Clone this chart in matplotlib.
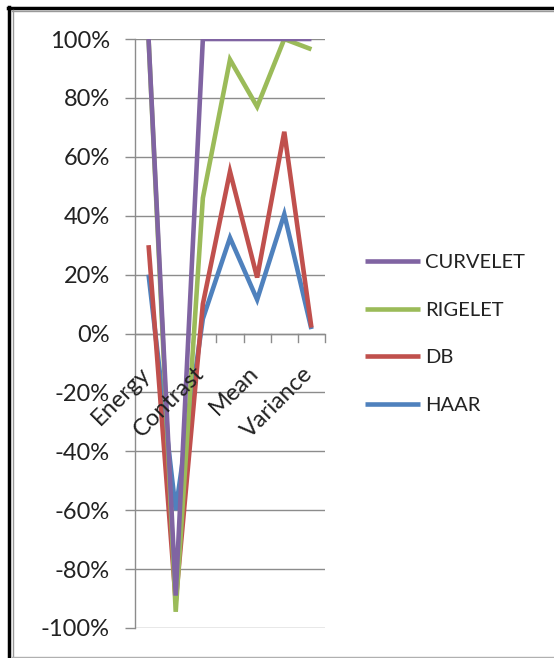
import matplotlib
matplotlib.use("Agg")
import matplotlib.pyplot as plt
from matplotlib.lines import Line2D
from matplotlib.ticker import FixedLocator, PercentFormatter

# feature order along the x axis; only every second name is labelled
features = ["Energy", "", "Contrast", "", "Mean", "", "Variance"]
shown_labels = {0: "Energy", 2: "Contrast", 4: "Mean", 6: "Variance"}

# percentages per transform
haar = [20, -60, 5, 32.5, 11.5, 40.5, 1.5]
db = [30, -91, 10, 55, 19, 68.5, 2]
rigelet = [100, -94.5, 46, 93, 77, 100, 96.5]
curvelet = [100, -89, 100, 100, 100, 100, 100]

series = [
    ("HAAR", haar, "#4F81BD"),
    ("DB", db, "#C0504D"),
    ("RIGELET", rigelet, "#9BBB59"),
    ("CURVELET", curvelet, "#8064A2"),
]

plt.rcParams["font.family"] = ["Lato", "DejaVu Sans"]
plt.rcParams["axes.unicode_minus"] = False

W, H = 554, 658
fig = plt.figure(figsize=(W / 100, H / 100), dpi=100)
ax = fig.add_axes([135 / W, 1 - 628 / H, 190 / W, 589 / H])

x = list(range(len(features)))
handles = []
for name, vals, col in series:
    ln, = ax.plot(x, vals, color=col, lw=3.3, solid_capstyle="butt",
                  solid_joinstyle="miter", clip_on=True)
    handles.append(ln)

ax.set_xlim(-0.5, len(features) - 0.5)
ax.set_ylim(-100, 100)
ax.yaxis.set_major_locator(FixedLocator(range(-100, 101, 20)))
ax.yaxis.set_major_formatter(PercentFormatter(decimals=0))
ax.grid(axis="y", color="#8c8c8c", lw=1)
ax.set_axisbelow(True)

for s in ["top", "right", "bottom"]:
    ax.spines[s].set_visible(False)
ax.spines["left"].set_color("#8c8c8c")
ax.spines["left"].set_linewidth(1)

ax.tick_params(axis="y", length=7, width=1, color="#8c8c8c", pad=11,
               labelsize=17, labelcolor="#222222")

# category boundaries on the zero line
ax.set_xticks([])
for b in [i + 0.5 for i in range(len(features) - 1)] + [len(features) - 0.5]:
    ax.plot([b, b], [0, -3], color="#8c8c8c", lw=1, clip_on=False, zorder=0)
ax.axhline(0, color="#8c8c8c", lw=1, zorder=0)

for i, lab in shown_labels.items():
    ax.annotate(lab, (i, 0), xytext=(4, -21), textcoords="offset points",
                rotation=45, ha="right", va="top", fontsize=17,
                color="#222222", annotation_clip=False)

leg = fig.legend(handles[::-1], [s[0] for s in series][::-1],
                 loc="center left", bbox_to_anchor=(365 / W, 1 - 334 / H),
                 frameon=False, fontsize=14.5, handlelength=2.75,
                 handletextpad=0.25, labelspacing=1.52, borderpad=0,
                 borderaxespad=0)
for t in leg.get_texts():
    t.set_color("#222222")

# outer frame
fig.add_artist(Line2D([9 / W, 9 / W], [0, 1 - 7 / H], transform=fig.transFigure,
                      color="black", lw=2.5))
fig.add_artist(Line2D([8 / W, 1], [1 - 7.5 / H, 1 - 7.5 / H],
                      transform=fig.transFigure, color="black", lw=2.5))
fig.add_artist(Line2D([12.5 / W, 12.5 / W], [1.5 / H, 1 - 10 / H],
                      transform=fig.transFigure, color="#9a9a9a", lw=1))
fig.add_artist(Line2D([12 / W, 1], [1 - 10.5 / H, 1 - 10.5 / H],
                      transform=fig.transFigure, color="#9a9a9a", lw=1))
fig.add_artist(Line2D([12 / W, 1], [1.5 / H, 1.5 / H],
                      transform=fig.transFigure, color="#b0b0b0", lw=1))

fig.savefig("out.png", dpi=100)
